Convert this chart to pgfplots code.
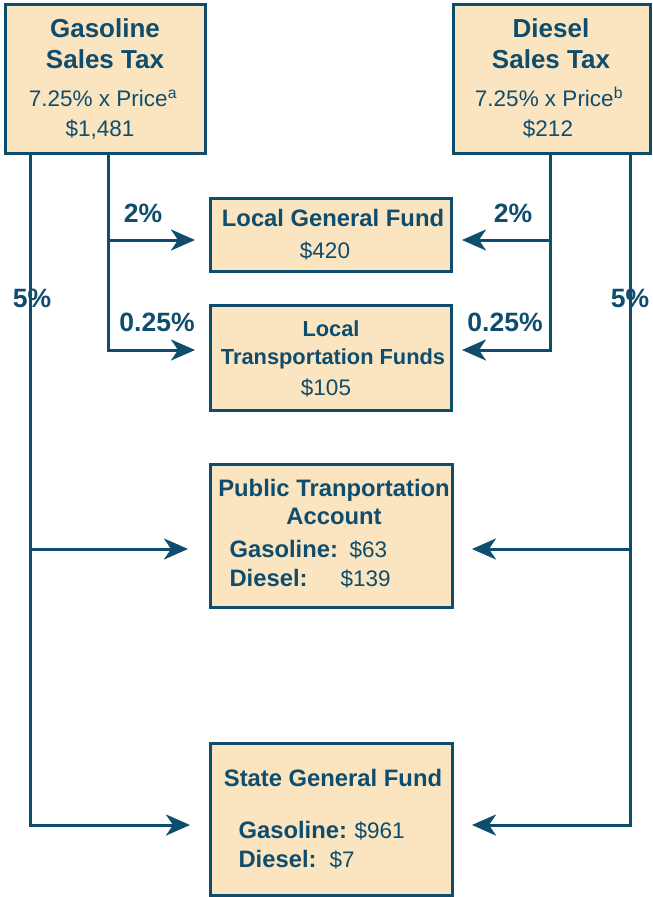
\documentclass[border=0pt]{standalone}
\usepackage{fontspec}
\setmainfont{Liberation Sans}
\usepackage{pgfplots}
\pgfplotsset{compat=1.18}
\usetikzlibrary{arrows.meta}
\definecolor{flowblue}{HTML}{0E4D6E}
\definecolor{boxfill}{HTML}{FBE4C0}
\begin{document}
\begin{tikzpicture}
\begin{axis}[
  width=652pt, height=897pt, scale only axis,
  xmin=0, xmax=652, ymin=0, ymax=897, y dir=reverse,
  hide axis, clip=false,
]
\tikzset{
  flow/.style={flowblue, line width=3pt, line join=miter},
  arr/.style={flow, -{Stealth[length=24pt, width=21pt, inset=7pt]}},
  box/.style={draw=flowblue, fill=boxfill, line width=3pt, line join=miter},
  ttl/.style={anchor=base, text=flowblue, font=\fontsize{26}{30}\selectfont\bfseries},
  hd/.style={anchor=base, text=flowblue, font=\fontsize{23.8}{27}\selectfont\bfseries},
  hds/.style={anchor=base, text=flowblue, font=\fontsize{21.8}{25}\selectfont\bfseries},
  rg/.style={anchor=base, text=flowblue, font=\fontsize{22.5}{26}\selectfont},
  pct/.style={anchor=base, text=flowblue, font=\fontsize{26.5}{30}\selectfont\bfseries},
}
\addplot[draw=none] coordinates {(0,0) (652,897)};
% gasoline flows
\addplot[flow] coordinates {(30,153) (30,549)};
\addplot[arr] coordinates {(30,540) (30,825) (190,825)};
\addplot[arr] coordinates {(30,549) (188,549)};
\addplot[arr] coordinates {(108,153) (108,350) (195,350)};
\addplot[arr] coordinates {(108,240) (195,240)};
% diesel flows
\addplot[flow] coordinates {(630,153) (630,549)};
\addplot[arr] coordinates {(630,540) (630,825) (472,825)};
\addplot[arr] coordinates {(630,549) (472,549)};
\addplot[arr] coordinates {(550,153) (550,350) (462,350)};
\addplot[arr] coordinates {(550,240) (462,240)};
% boxes
\addplot[box] coordinates {(5,4) (205,4) (205,153) (5,153)} --cycle;
\addplot[box] coordinates {(453,4) (650,4) (650,153) (453,153)} --cycle;
\addplot[box] coordinates {(210,198) (451,198) (451,271) (210,271)} --cycle;
\addplot[box] coordinates {(210,305) (451,305) (451,410) (210,410)} --cycle;
\addplot[box] coordinates {(210,464) (452,464) (452,607) (210,607)} --cycle;
\addplot[box] coordinates {(210,743) (452,743) (452,895) (210,895)} --cycle;
% source boxes
\node[ttl] at (axis cs:105,37) {Gasoline};
\node[ttl] at (axis cs:105,68) {Sales Tax};
\node[rg] at (axis cs:103,106) {7.25\% x Price\textsuperscript{a}};
\node[rg] at (axis cs:100,136) {\$1,481};
\node[ttl] at (axis cs:551,37) {Diesel};
\node[ttl] at (axis cs:551,68) {Sales Tax};
\node[rg] at (axis cs:549,106) {7.25\% x Price\textsuperscript{b}};
\node[rg] at (axis cs:548,136) {\$212};
% destination boxes
\node[hd] at (axis cs:333,226) {Local General Fund};
\node[rg] at (axis cs:325,258) {\$420};
\node[hds] at (axis cs:331,336) {Local};
\node[hds] at (axis cs:333,364) {Transportation Funds};
\node[rg] at (axis cs:326,395) {\$105};
\node[hd] at (axis cs:334,496) {Public Tranportation};
\node[hd] at (axis cs:334,524) {Account};
\node[hd, anchor=base west] at (axis cs:226,557) {Gasoline:};
\node[rg, anchor=base west] at (axis cs:346,557) {\$63};
\node[hd, anchor=base west] at (axis cs:226,586) {Diesel:};
\node[rg, anchor=base west] at (axis cs:337,586) {\$139};
\node[hd] at (axis cs:333,786) {State General Fund};
\node[hd, anchor=base west] at (axis cs:235,838) {Gasoline:};
\node[rg, anchor=base west] at (axis cs:351,838) {\$961};
\node[hd, anchor=base west] at (axis cs:235,867) {Diesel:};
\node[rg, anchor=base west] at (axis cs:326,867) {\$7};
% percentages
\node[pct] at (axis cs:143,222) {2\%};
\node[pct] at (axis cs:157,331) {0.25\%};
\node[pct] at (axis cs:32,307) {5\%};
\node[pct] at (axis cs:513,222) {2\%};
\node[pct] at (axis cs:505,331) {0.25\%};
\node[pct] at (axis cs:630,307) {5\%};
\end{axis}
\end{tikzpicture}
\end{document}
